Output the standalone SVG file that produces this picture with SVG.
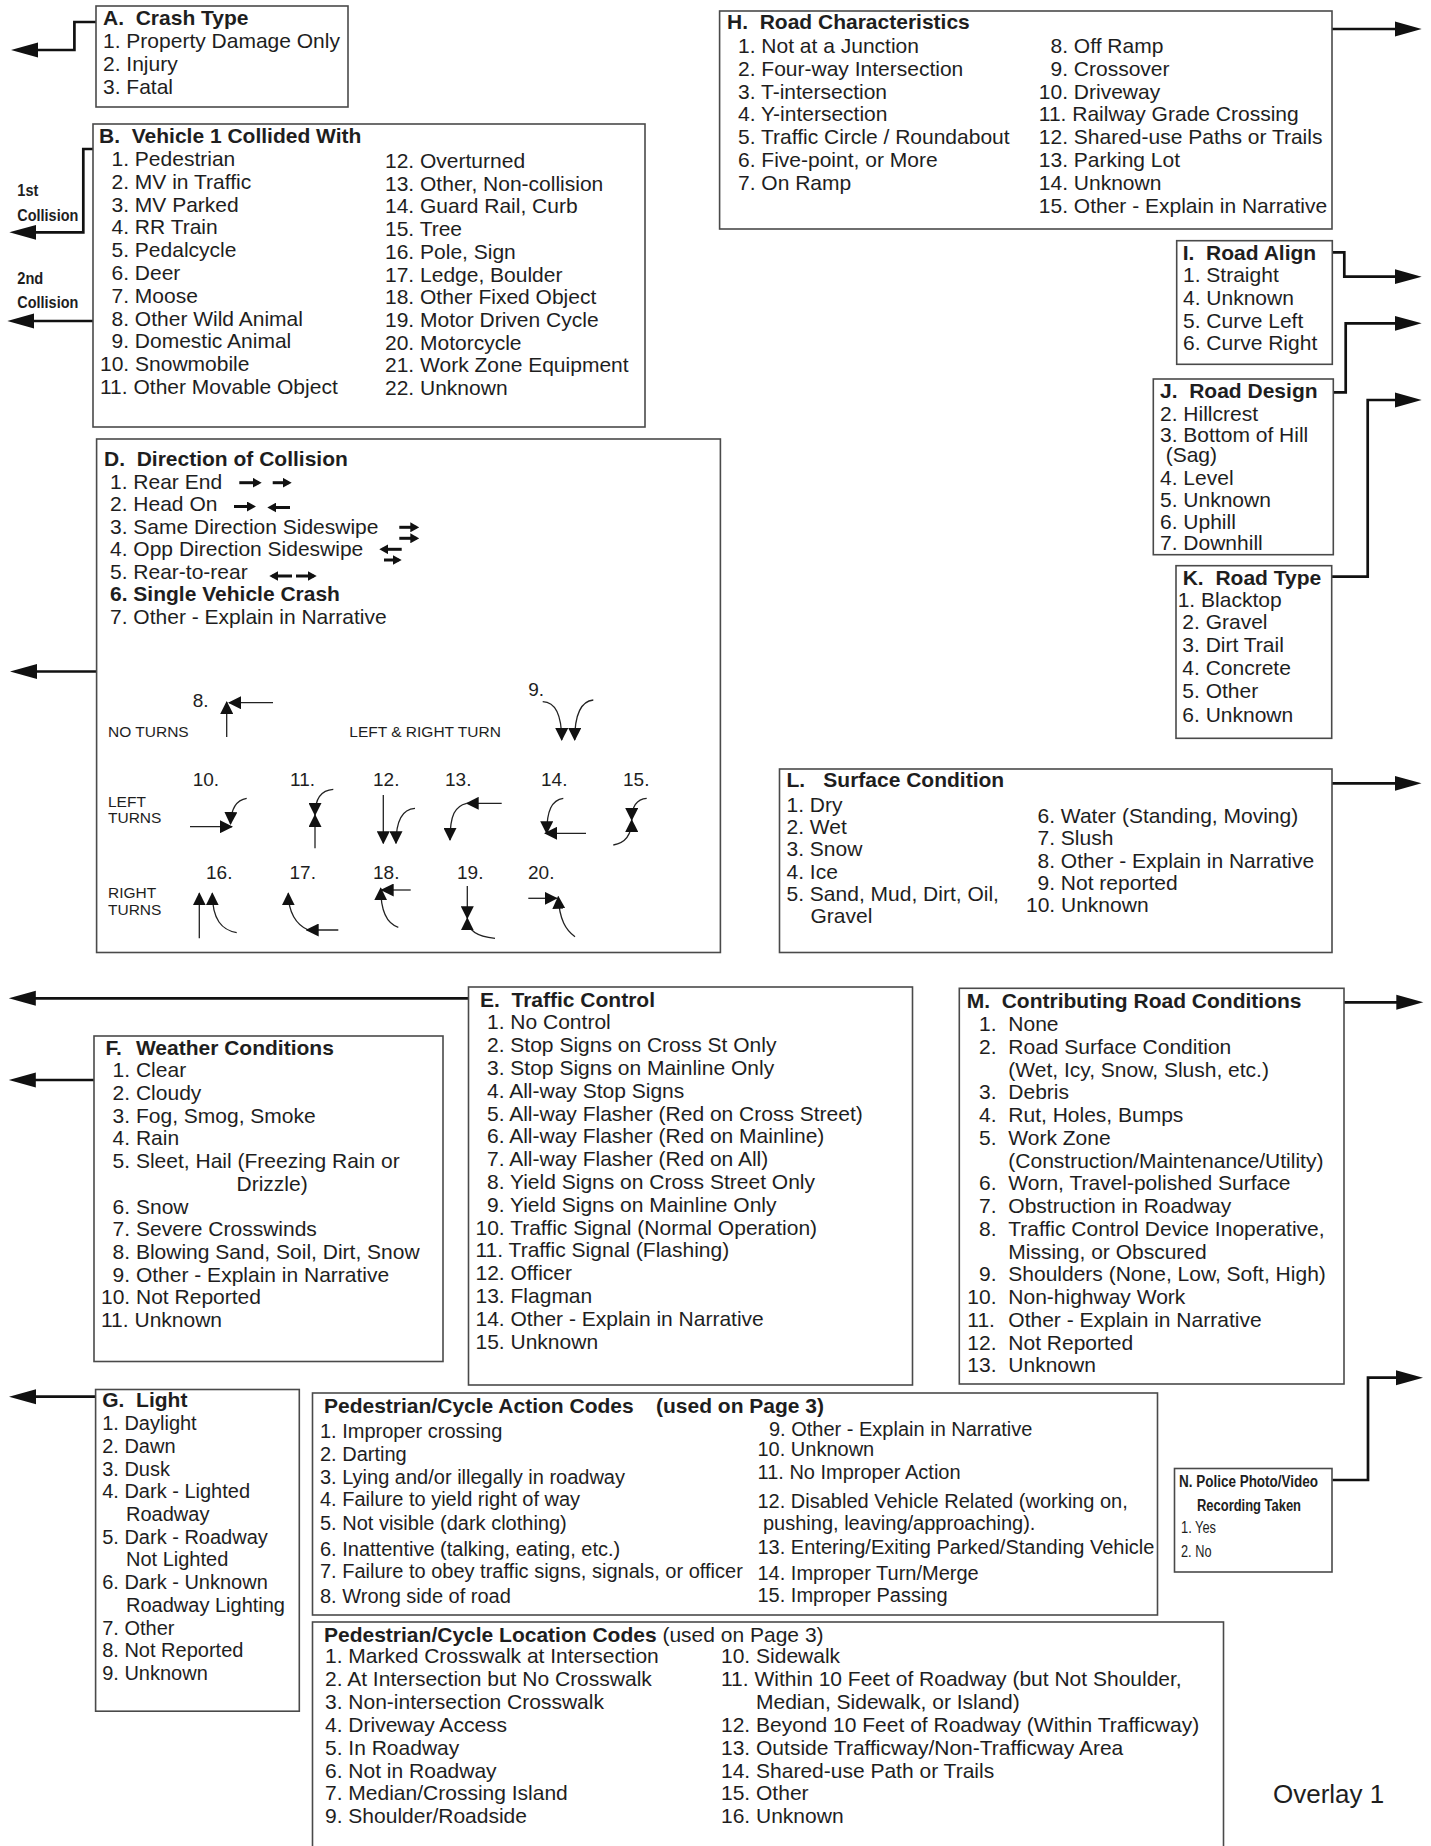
<svg xmlns="http://www.w3.org/2000/svg" width="1431" height="1846" viewBox="0 0 1431 1846">
<style>
text{font-family:"Liberation Sans",Arial,sans-serif;font-size:21px;fill:#1e1e1e}
.b{font-weight:bold}
.s20{font-size:20px}
.s16{font-size:16px}
.sm{font-size:15.5px}
.num{font-size:19px}
.box{fill:#fff;stroke:#4a4a4a;stroke-width:1.6}
.conn{fill:none;stroke:#111;stroke-width:2.7;marker-end:url(#ah)}
.tl{fill:none;stroke:#222;stroke-width:1.3;marker-end:url(#sm)}
.il{fill:none;stroke:#111;stroke-width:3;marker-end:url(#im)}
</style>
<defs>
<marker id="ah" viewBox="0 0 28 16" refX="6" refY="8" markerWidth="28" markerHeight="16" markerUnits="userSpaceOnUse" orient="auto"><path d="M0,0.5 L27,8 L0,15.5 Z" fill="#111"/></marker>
<marker id="sm" viewBox="0 0 13 13" refX="12" refY="6.5" markerWidth="13" markerHeight="13" markerUnits="userSpaceOnUse" orient="auto"><path d="M0,0 L13,6.5 L0,13 Z" fill="#111"/></marker>
<marker id="im" viewBox="0 0 9 10" refX="6" refY="5" markerWidth="9" markerHeight="10" markerUnits="userSpaceOnUse" orient="auto"><path d="M0,0 L9,5 L0,10 Z" fill="#111"/></marker>
</defs>
<rect width="1431" height="1846" fill="#fff"/>

<g id="connectors">
<path class="conn" d="M96,22 H74.4 V50 H32"/>
<path class="conn" d="M93,149 H83.3 V232.3 H30.3"/>
<path class="conn" d="M93,321 H28.3"/>
<path class="conn" d="M719.6,29 H1400.7"/>
<path class="conn" d="M1332.3,252.3 H1344.3 V276.7 H1400.7"/>
<path class="conn" d="M1333.3,392.3 H1345.7 V323.3 H1400.7"/>
<path class="conn" d="M1331.7,576.7 H1367.7 V400 H1400.7"/>
<path class="conn" d="M96.6,671.5 H31"/>
<path class="conn" d="M1332,783.3 H1400.5"/>
<path class="conn" d="M468.5,998.3 H29.8"/>
<path class="conn" d="M94,1080 H29.8"/>
<path class="conn" d="M1344,1002.3 H1402.3"/>
<path class="conn" d="M1332.4,1480 H1368 V1377.7 H1402"/>
<path class="conn" d="M95.6,1396.7 H30"/>
</g>

<g id="collision-labels">
<text class="b" style="font-size:17px" x="17.3" y="196" textLength="21" lengthAdjust="spacingAndGlyphs">1st</text>
<text class="b" style="font-size:17px" x="17.3" y="221" textLength="61" lengthAdjust="spacingAndGlyphs">Collision</text>
<text class="b" style="font-size:17px" x="17.3" y="284.3" textLength="26" lengthAdjust="spacingAndGlyphs">2nd</text>
<text class="b" style="font-size:17px" x="17.3" y="308.3" textLength="61" lengthAdjust="spacingAndGlyphs">Collision</text>
</g>

<g id="A">
<rect class="box" x="96" y="6" width="252" height="101"/>
<text class="b" x="103" y="25">A.</text><text class="b" x="135.7" y="25">Crash Type</text>
<text x="103" y="48">1. Property Damage Only</text>
<text x="103" y="71">2. Injury</text>
<text x="103" y="94">3. Fatal</text>
</g>

<g id="B">
<rect class="box" x="93" y="124" width="552" height="303"/>
<text class="b" x="99" y="143">B.</text><text class="b" x="131.7" y="143">Vehicle 1 Collided With</text>
<text x="111.5" y="166">1. Pedestrian</text>
<text x="111.5" y="188.8">2. MV in Traffic</text>
<text x="111.5" y="211.6">3. MV Parked</text>
<text x="111.5" y="234.4">4. RR Train</text>
<text x="111.5" y="257.2">5. Pedalcycle</text>
<text x="111.5" y="280">6. Deer</text>
<text x="111.5" y="302.8">7. Moose</text>
<text x="111.5" y="325.6">8. Other Wild Animal</text>
<text x="111.5" y="348.4">9. Domestic Animal</text>
<text x="100" y="371.2">10. Snowmobile</text>
<text x="100" y="394">11. Other Movable Object</text>
<text x="385" y="168">12. Overturned</text>
<text x="385" y="190.7">13. Other, Non-collision</text>
<text x="385" y="213.4">14. Guard Rail, Curb</text>
<text x="385" y="236.1">15. Tree</text>
<text x="385" y="258.8">16. Pole, Sign</text>
<text x="385" y="281.5">17. Ledge, Boulder</text>
<text x="385" y="304.2">18. Other Fixed Object</text>
<text x="385" y="326.9">19. Motor Driven Cycle</text>
<text x="385" y="349.6">20. Motorcycle</text>
<text x="385" y="372.3">21. Work Zone Equipment</text>
<text x="385" y="395">22. Unknown</text>
</g>

<g id="H">
<rect class="box" x="719.6" y="11" width="612.4" height="218"/>
<text class="b" x="727" y="29">H.</text><text class="b" x="759.7" y="29">Road Characteristics</text>
<text x="738" y="52.7">1. Not at a Junction</text>
<text x="738" y="75.6">2. Four-way Intersection</text>
<text x="738" y="98.5">3. T-intersection</text>
<text x="738" y="121.4">4. Y-intersection</text>
<text x="738" y="144.3">5. Traffic Circle / Roundabout</text>
<text x="738" y="167.2">6. Five-point, or More</text>
<text x="738" y="190.1">7. On Ramp</text>
<text x="1050.5" y="52.7">8. Off Ramp</text>
<text x="1050.5" y="75.6">9. Crossover</text>
<text x="1038.8" y="98.5">10. Driveway</text>
<text x="1038.8" y="121.4">11. Railway Grade Crossing</text>
<text x="1038.8" y="144.3">12. Shared-use Paths or Trails</text>
<text x="1038.8" y="167.2">13. Parking Lot</text>
<text x="1038.8" y="190.1">14. Unknown</text>
<text x="1038.8" y="213">15. Other - Explain in Narrative</text>
</g>

<g id="I">
<rect class="box" x="1176.7" y="240.7" width="155.6" height="123.6"/>
<text class="b" x="1182.7" y="260">I.</text><text class="b" x="1206.1" y="260">Road Align</text>
<text x="1183" y="282.3">1. Straight</text>
<text x="1183" y="305">4. Unknown</text>
<text x="1183" y="327.7">5. Curve Left</text>
<text x="1183" y="350">6. Curve Right</text>
</g>

<g id="J">
<rect class="box" x="1153.3" y="379" width="180" height="175.7"/>
<text class="b" x="1160" y="398.3">J.</text><text class="b" x="1189.2" y="398.3">Road Design</text>
<text x="1160" y="420.7">2. Hillcrest</text>
<text x="1160" y="441.7">3. Bottom of Hill</text>
<text x="1165.7" y="462.3">(Sag)</text>
<text x="1160" y="485">4. Level</text>
<text x="1160" y="506.7">5. Unknown</text>
<text x="1160" y="529">6. Uphill</text>
<text x="1160" y="550">7. Downhill</text>
</g>

<g id="K">
<rect class="box" x="1176" y="565.7" width="155.7" height="172.6"/>
<text class="b" x="1182.7" y="585">K.</text><text class="b" x="1215.4" y="585">Road Type</text>
<text x="1177.7" y="607.3">1. Blacktop</text>
<text x="1182.3" y="629.3">2. Gravel</text>
<text x="1182.3" y="652.3">3. Dirt Trail</text>
<text x="1182.3" y="675">4. Concrete</text>
<text x="1182.3" y="698.3">5. Other</text>
<text x="1182.3" y="721.7">6. Unknown</text>
</g>

<g id="D">
<rect class="box" x="96.6" y="439" width="623.8" height="513.5"/>
<text class="b" x="104" y="466">D.</text><text class="b" x="136.7" y="466">Direction of Collision</text>
<text x="110" y="488.5">1. Rear End</text>
<text x="110" y="511">2. Head On</text>
<text x="110" y="533.5">3. Same Direction Sideswipe</text>
<text x="110" y="556">4. Opp Direction Sideswipe</text>
<text x="110" y="578.5">5. Rear-to-rear</text>
<text class="b" x="110" y="601">6. Single Vehicle Crash</text>
<text x="110" y="623.5">7. Other - Explain in Narrative</text>
<path class="il" d="M239.3,482.7 H258.7"/>
<path class="il" d="M272.7,482.7 H288.7"/>
<path class="il" d="M234,506.5 H253"/>
<path class="il" d="M290,507.5 H270.3"/>
<path class="il" d="M399.3,527.3 H416.3"/>
<path class="il" d="M399.3,538.3 H416.3"/>
<path class="il" d="M401.7,549.3 H382.3"/>
<path class="il" d="M384,560 H398.7"/>
<path class="il" d="M292,576 H272.3"/>
<path class="il" d="M296,576 H313.7"/>
<text class="sm" x="108" y="737">NO TURNS</text>
<text class="sm" x="349.3" y="737.3">LEFT &amp; RIGHT TURN</text>
<text class="num" x="192.7" y="706.7">8.</text>
<text class="num" x="528.3" y="696">9.</text>
<text class="sm" x="108" y="806.5">LEFT</text>
<text class="sm" x="108" y="823">TURNS</text>
<text class="sm" x="108" y="898">RIGHT</text>
<text class="sm" x="108" y="914.5">TURNS</text>
<text class="num" x="192.7" y="786">10.</text>
<text class="num" x="290" y="786">11.</text>
<text class="num" x="373" y="786">12.</text>
<text class="num" x="445" y="786">13.</text>
<text class="num" x="541" y="786">14.</text>
<text class="num" x="623" y="786">15.</text>
<text class="num" x="206" y="879.3">16.</text>
<text class="num" x="289.5" y="879.3">17.</text>
<text class="num" x="373" y="879.3">18.</text>
<text class="num" x="457" y="879.3">19.</text>
<text class="num" x="528" y="879.3">20.</text>
<path class="tl" d="M226.7,737 V702"/>
<path class="tl" d="M273,702.7 H229"/>
<path class="tl" d="M542.7,701.7 C553,702 561.7,710 561.7,740"/>
<path class="tl" d="M593.3,700 C583,701 574.7,710 574.7,740"/>
<path class="tl" d="M190,826.7 H232"/>
<path class="tl" d="M246.7,798.3 C236,800 231,808 230.5,824"/>
<path class="tl" d="M315,848.3 V815"/>
<path class="tl" d="M333.3,789.3 C322,790 315,797 315,815"/>
<path class="tl" d="M383.3,795 V843.3"/>
<path class="tl" d="M415,808.3 C402,809 396,820 396,843.3"/>
<path class="tl" d="M501.7,803.3 H466.7"/>
<path class="tl" d="M466.7,803.3 C455,806 450,815 450,840"/>
<path class="tl" d="M586,833.3 H545"/>
<path class="tl" d="M563.3,798.3 C552,800 546.7,810 546.7,833.3"/>
<path class="tl" d="M646.7,798.3 C637,799 631.7,806 631.7,820"/>
<path class="tl" d="M613.3,845 C625,843 631.7,836 631.7,820"/>
<path class="tl" d="M199.3,938.3 V893.3"/>
<path class="tl" d="M236.7,932.7 C222,930 212.3,920 212.3,893.3"/>
<path class="tl" d="M308.3,930 C296,925 288.3,912 288.3,893.3"/>
<path class="tl" d="M338.3,930 H306.7"/>
<path class="tl" d="M410.7,890 H381.7"/>
<path class="tl" d="M398.3,927.3 C388,924 380.7,912 380.7,888.3"/>
<path class="tl" d="M467.3,886 V918.3"/>
<path class="tl" d="M495,938.3 C480,937 467.3,932 467.3,918.3"/>
<path class="tl" d="M528.3,898.3 H556.7"/>
<path class="tl" d="M575,936.7 C566,930 559.3,920 558.3,896.7"/>
</g>

<g id="L">
<rect class="box" x="779.5" y="769" width="552.5" height="183.5"/>
<text class="b" x="786.5" y="786.7">L.</text>
<text class="b" x="823.3" y="786.7">Surface Condition</text>
<text x="786.5" y="811.5">1. Dry</text>
<text x="786.5" y="833.9">2. Wet</text>
<text x="786.5" y="856.2">3. Snow</text>
<text x="786.5" y="878.6">4. Ice</text>
<text x="786.5" y="900.9">5. Sand, Mud, Dirt, Oil,</text>
<text x="810.5" y="923.3">Gravel</text>
<text x="1037.5" y="823.3">6. Water (Standing, Moving)</text>
<text x="1037.5" y="845.4">7. Slush</text>
<text x="1037.5" y="867.5">8. Other - Explain in Narrative</text>
<text x="1037.5" y="889.6">9. Not reported</text>
<text x="1026" y="911.7">10. Unknown</text>
</g>

<g id="E">
<rect class="box" x="468.5" y="987" width="444" height="398"/>
<text class="b" x="480" y="1006.7">E.</text><text class="b" x="511.5" y="1006.7">Traffic Control</text>
<text x="487" y="1029.3">1. No Control</text>
<text x="487" y="1052.1">2. Stop Signs on Cross St Only</text>
<text x="487" y="1074.9">3. Stop Signs on Mainline Only</text>
<text x="487" y="1097.7">4. All-way Stop Signs</text>
<text x="487" y="1120.5">5. All-way Flasher (Red on Cross Street)</text>
<text x="487" y="1143.3">6. All-way Flasher (Red on Mainline)</text>
<text x="487" y="1166.1">7. All-way Flasher (Red on All)</text>
<text x="487" y="1188.9">8. Yield Signs on Cross Street Only</text>
<text x="487" y="1211.7">9. Yield Signs on Mainline Only</text>
<text x="475.5" y="1234.5">10. Traffic Signal (Normal Operation)</text>
<text x="475.5" y="1257.3">11. Traffic Signal (Flashing)</text>
<text x="475.5" y="1280.1">12. Officer</text>
<text x="475.5" y="1302.9">13. Flagman</text>
<text x="475.5" y="1325.7">14. Other - Explain in Narrative</text>
<text x="475.5" y="1348.5">15. Unknown</text>
</g>

<g id="F">
<rect class="box" x="94" y="1036" width="349" height="325.5"/>
<text class="b" x="105.6" y="1055">F.</text><text class="b" x="135.9" y="1055">Weather Conditions</text>
<text x="112.6" y="1077.3">1. Clear</text>
<text x="112.6" y="1100">2. Cloudy</text>
<text x="112.6" y="1122.7">3. Fog, Smog, Smoke</text>
<text x="112.6" y="1145.4">4. Rain</text>
<text x="112.6" y="1168.1">5. Sleet, Hail (Freezing Rain or</text>
<text x="236.5" y="1190.8">Drizzle)</text>
<text x="112.6" y="1213.5">6. Snow</text>
<text x="112.6" y="1236.2">7. Severe Crosswinds</text>
<text x="112.6" y="1258.9">8. Blowing Sand, Soil, Dirt, Snow</text>
<text x="112.6" y="1281.6">9. Other - Explain in Narrative</text>
<text x="101" y="1304.3">10. Not Reported</text>
<text x="101" y="1327">11. Unknown</text>
</g>

<g id="M">
<rect class="box" x="959.3" y="988.3" width="384.7" height="395.7"/>
<text class="b" x="966.7" y="1007.7">M.</text><text class="b" x="1001.7" y="1007.7">Contributing Road Conditions</text>
<text x="979" y="1031">1.</text><text x="1008.3" y="1031">None</text>
<text x="979" y="1053.75">2.</text><text x="1008.3" y="1053.75">Road Surface Condition</text>
<text x="1008.3" y="1076.5">(Wet, Icy, Snow, Slush, etc.)</text>
<text x="979" y="1099.25">3.</text><text x="1008.3" y="1099.25">Debris</text>
<text x="979" y="1122">4.</text><text x="1008.3" y="1122">Rut, Holes, Bumps</text>
<text x="979" y="1144.75">5.</text><text x="1008.3" y="1144.75">Work Zone</text>
<text x="1008.3" y="1167.5">(Construction/Maintenance/Utility)</text>
<text x="979" y="1190.25">6.</text><text x="1008.3" y="1190.25">Worn, Travel-polished Surface</text>
<text x="979" y="1213">7.</text><text x="1008.3" y="1213">Obstruction in Roadway</text>
<text x="979" y="1235.75">8.</text><text x="1008.3" y="1235.75">Traffic Control Device Inoperative,</text>
<text x="1008.3" y="1258.5">Missing, or Obscured</text>
<text x="979" y="1281.25">9.</text><text x="1008.3" y="1281.25">Shoulders (None, Low, Soft, High)</text>
<text x="967.3" y="1304">10.</text><text x="1008.3" y="1304">Non-highway Work</text>
<text x="967.3" y="1326.75">11.</text><text x="1008.3" y="1326.75">Other - Explain in Narrative</text>
<text x="967.3" y="1349.5">12.</text><text x="1008.3" y="1349.5">Not Reported</text>
<text x="967.3" y="1372.25">13.</text><text x="1008.3" y="1372.25">Unknown</text>
</g>

<g id="G">
<rect class="box" x="95.6" y="1389.5" width="203.7" height="321.7"/>
<text class="b" x="102.2" y="1406.7">G.</text><text class="b" x="136.1" y="1406.7">Light</text>
<text class="s20" x="102.2" y="1430">1. Daylight</text>
<text class="s20" x="102.2" y="1452.7">2. Dawn</text>
<text class="s20" x="102.2" y="1475.5">3. Dusk</text>
<text class="s20" x="102.2" y="1498.2">4. Dark - Lighted</text>
<text class="s20" x="126" y="1520.9">Roadway</text>
<text class="s20" x="102.2" y="1543.7">5. Dark - Roadway</text>
<text class="s20" x="126" y="1566.4">Not Lighted</text>
<text class="s20" x="102.2" y="1589.1">6. Dark - Unknown</text>
<text class="s20" x="126" y="1611.8">Roadway Lighting</text>
<text class="s20" x="102.2" y="1634.6">7. Other</text>
<text class="s20" x="102.2" y="1657.3">8. Not Reported</text>
<text class="s20" x="102.2" y="1680">9. Unknown</text>
</g>

<g id="ped-action">
<rect class="box" x="312.5" y="1393" width="845" height="222"/>
<text class="b" x="324" y="1413.3">Pedestrian/Cycle Action Codes</text>
<text class="b" x="656" y="1413.3">(used on Page 3)</text>
<text class="s20" x="320" y="1438">1. Improper crossing</text>
<text class="s20" x="320" y="1460.5">2. Darting</text>
<text class="s20" x="320" y="1483.5">3. Lying and/or illegally in roadway</text>
<text class="s20" x="320" y="1506">4. Failure to yield right of way</text>
<text class="s20" x="320" y="1530">5. Not visible (dark clothing)</text>
<text class="s20" x="320" y="1556">6. Inattentive (talking, eating, etc.)</text>
<text class="s20" x="320" y="1578">7. Failure to obey traffic signs, signals, or officer</text>
<text class="s20" x="320" y="1602.5">8. Wrong side of road</text>
<text class="s20" x="769" y="1435.5">9. Other - Explain in Narrative</text>
<text class="s20" x="757.5" y="1456">10. Unknown</text>
<text class="s20" x="757.5" y="1478.5">11. No Improper Action</text>
<text class="s20" x="757.5" y="1507.7">12. Disabled Vehicle Related (working on,</text>
<text class="s20" x="763" y="1529.7">pushing, leaving/approaching).</text>
<text class="s20" x="757.5" y="1554">13. Entering/Exiting Parked/Standing Vehicle</text>
<text class="s20" x="757.5" y="1580">14. Improper Turn/Merge</text>
<text class="s20" x="757.5" y="1602">15. Improper Passing</text>
</g>

<g id="ped-location">
<rect class="box" x="312.5" y="1622" width="911" height="240"/>
<text x="324" y="1641.7"><tspan class="b">Pedestrian/Cycle Location Codes</tspan> (used on Page 3)</text>
<text x="325" y="1663.3">1. Marked Crosswalk at Intersection</text>
<text x="325" y="1686.2">2. At Intersection but No Crosswalk</text>
<text x="325" y="1709">3. Non-intersection Crosswalk</text>
<text x="325" y="1731.9">4. Driveway Access</text>
<text x="325" y="1754.7">5. In Roadway</text>
<text x="325" y="1777.6">6. Not in Roadway</text>
<text x="325" y="1800.4">7. Median/Crossing Island</text>
<text x="325" y="1823.3">9. Shoulder/Roadside</text>
<text x="721" y="1663.3">10. Sidewalk</text>
<text x="721" y="1686.2">11. Within 10 Feet of Roadway (but Not Shoulder,</text>
<text x="756" y="1709">Median, Sidewalk, or Island)</text>
<text x="721" y="1731.9">12. Beyond 10 Feet of Roadway (Within Trafficway)</text>
<text x="721" y="1754.7">13. Outside Trafficway/Non-Trafficway Area</text>
<text x="721" y="1777.6">14. Shared-use Path or Trails</text>
<text x="721" y="1800.4">15. Other</text>
<text x="721" y="1823.3">16. Unknown</text>
</g>

<g id="N">
<rect class="box" x="1174.5" y="1468.5" width="157.5" height="103.5"/>
<text class="b s16" x="1179" y="1487.3" textLength="139" lengthAdjust="spacingAndGlyphs">N. Police Photo/Video</text>
<text class="b s16" x="1197" y="1510.7" textLength="104" lengthAdjust="spacingAndGlyphs">Recording Taken</text>
<text class="s16" x="1181" y="1533.3" textLength="35" lengthAdjust="spacingAndGlyphs">1. Yes</text>
<text class="s16" x="1181" y="1556.7" textLength="30.5" lengthAdjust="spacingAndGlyphs">2. No</text>
</g>

<g id="overlay-label">
<text style="font-size:26px" x="1273" y="1803">Overlay 1</text>
</g>
</svg>
